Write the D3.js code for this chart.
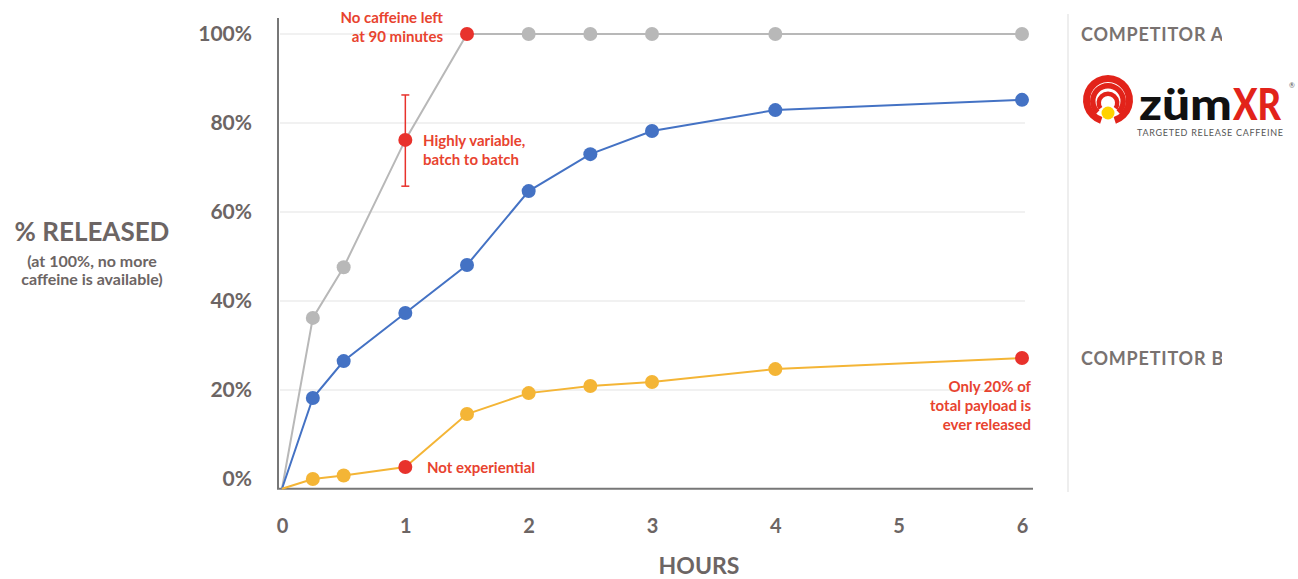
<!DOCTYPE html>
<html>
<head>
<meta charset="utf-8">
<script src="https://cdn.jsdelivr.net/npm/d3@7"></script>
<style>
  body { margin: 0; background: #fff; }
  text { font-family: Lato, "Open Sans", sans-serif; }
</style>
</head>
<body>
<script>
// hours for each sample
var hours = [0, 0.25, 0.5, 1, 1.5, 2, 2.5, 3, 4, 6];
// % released (first point sits on the baseline)
var competitorA = [-2.2, 36.2, 47.6, 76.2, 100, 100, 100, 100, 100, 100];
var zumXR = [-2.2, 18.2, 26.5, 37.3, 48.1, 64.7, 73.0, 78.2, 82.9, 85.2];
var competitorB = [-2.2, 0.0, 0.8, 2.7, 14.6, 19.3, 20.9, 21.8, 24.7, 27.2];
var errorBarA = [65.8, 86.3]; // at 1 hour
var yTicks = [0, 20, 40, 60, 80, 100];
var xTicks = [0, 1, 2, 3, 4, 5, 6];

var width = 1298, height = 579;
var gray = '#6c6564', red = '#e8322c';

var svg = d3.select('body').append('svg').attr('width', width).attr('height', height);

var x = d3.scaleLinear().domain([0, 6]).range([282, 1022]);
var y = d3.scaleLinear().domain([0, 100]).range([479, 34]);

//gridlines
svg.append('g').selectAll('line').data(yTicks.slice(1)).enter().append('line')
  .attr('x1', 280).attr('x2', 1025)
  .attr('y1', function(d) { return y(d); }).attr('y2', function(d) { return y(d); })
  .style('stroke', '#ececec').style('stroke-width', 1.5);

//axes
var yAxis = svg.append('g').attr('transform', 'translate(278,0)')
  .call(d3.axisLeft(y).tickValues(yTicks).tickSize(0).tickPadding(26).tickFormat(function(d) { return d + '%'; }));
yAxis.select('.domain').remove();
yAxis.selectAll('text').style('font-size', '21px').style('font-weight', 700).style('fill', gray);

var xAxis = svg.append('g').attr('transform', 'translate(0,' + y(-2.2) + ')')
  .call(d3.axisBottom(x).tickValues(xTicks).tickSize(0).tickPadding(30).tickFormat(d3.format('d')));
xAxis.select('.domain').remove();
xAxis.selectAll('text').style('font-size', '20px').style('font-weight', 700).style('fill', gray);

svg.append('line').attr('x1', 278).attr('x2', 278).attr('y1', 18).attr('y2', y(-2.2))
  .style('stroke', '#777').style('stroke-width', 2);
svg.append('line').attr('x1', 277).attr('x2', 1033).attr('y1', y(-2.2)).attr('y2', y(-2.2))
  .style('stroke', '#777').style('stroke-width', 2);
svg.append('line').attr('x1', 1068).attr('x2', 1068).attr('y1', 14).attr('y2', 492)
  .style('stroke', '#eeeeee').style('stroke-width', 2);

//axis titles
svg.append('text').attr('x', 92).attr('y', 241).attr('text-anchor', 'middle')
  .style('font-size', '26px').style('font-weight', 700).style('fill', gray).text('% RELEASED');
svg.append('text').attr('x', 92).attr('y', 267).attr('text-anchor', 'middle')
  .style('font-size', '16px').style('font-weight', 700).style('fill', gray).text('(at 100%, no more');
svg.append('text').attr('x', 92).attr('y', 285).attr('text-anchor', 'middle')
  .style('font-size', '16px').style('font-weight', 700).style('fill', gray).text('caffeine is available)');
svg.append('text').attr('x', 699).attr('y', 574).attr('text-anchor', 'middle')
  .style('font-size', '23px').style('font-weight', 700).style('fill', gray).text('HOURS');

//series
var series = [
  {name: 'A', values: competitorA, color: '#b8b8b8'},
  {name: 'zum', values: zumXR, color: '#4472c4'},
  {name: 'B', values: competitorB, color: '#f4b536'}
];
var line = d3.line().x(function(d) { return x(d[0]); }).y(function(d) { return y(d[1]); });

// red error bar under the gray line
var eb = svg.append('g').style('stroke', red).style('stroke-width', 1.5);
eb.append('line').attr('x1', x(1)).attr('x2', x(1)).attr('y1', y(errorBarA[0])).attr('y2', y(errorBarA[1]));
eb.append('line').attr('x1', x(1) - 4).attr('x2', x(1) + 4).attr('y1', y(errorBarA[0])).attr('y2', y(errorBarA[0]));
eb.append('line').attr('x1', x(1) - 4).attr('x2', x(1) + 4).attr('y1', y(errorBarA[1])).attr('y2', y(errorBarA[1]));

// highlighted points: [series, hour]
var highlights = {'A': [1, 1.5], 'B': [1, 6]};

series.forEach(function(s) {
  var pts = hours.map(function(h, i) { return [h, s.values[i]]; });
  svg.append('path').attr('d', line(pts))
    .style('fill', 'none').style('stroke', s.color).style('stroke-width', 2);
  svg.append('g').selectAll('circle').data(pts.slice(1)).enter().append('circle')
    .attr('cx', function(d) { return x(d[0]); })
    .attr('cy', function(d) { return y(d[1]); })
    .attr('r', 7)
    .style('fill', function(d) {
      return (highlights[s.name] || []).indexOf(d[0]) >= 0 ? red : s.color;
    });
});

//annotations
function note(lines, ax, ay, anchor) {
  var t = svg.append('text').attr('text-anchor', anchor)
    .style('font-size', '15px').style('font-weight', 700).style('fill', '#e8432f');
  lines.forEach(function(l, i) {
    t.append('tspan').attr('x', ax).attr('y', ay + i * 19).text(l);
  });
}
note(['No caffeine left', 'at 90 minutes'], 443, 23, 'end');
note(['Highly variable,', 'batch to batch'], 423, 146, 'start');
note(['Not experiential'], 427, 473, 'start');
note(['Only 20% of', 'total payload is', 'ever released'], 1031, 392, 'end');

//competitor labels, cut at the right edge like the source image
svg.append('clipPath').attr('id', 'cut').append('rect').attr('x', 1070).attr('y', 0).attr('width', 152).attr('height', height);
var labels = svg.append('g').attr('clip-path', 'url(#cut)');
labels.append('text').attr('x', 1081).attr('y', y(100) + 7)
  .style('font-size', '18px').style('font-weight', 700).style('letter-spacing', '0.8px').style('fill', '#797270').text('COMPETITOR A');
labels.append('text').attr('x', 1081).attr('y', y(27.2) + 7)
  .style('font-size', '18px').style('font-weight', 700).style('letter-spacing', '0.8px').style('fill', '#797270').text('COMPETITOR B');

//logo
var logo = svg.append('g').attr('transform', 'translate(1107,100)');
var arc = d3.arc();
// [radius, thickness, centre shift down, half-gap at bottom]
[[25, 7, 0, 0.32], [18, 5.5, 1, 0.75], [11.5, 4.5, 3, 0.95]].forEach(function(r) {
  logo.append('path')
    .attr('d', arc({innerRadius: r[0] - r[1], outerRadius: r[0], startAngle: Math.PI + r[3], endAngle: 3 * Math.PI - r[3]}))
    .attr('transform', 'translate(1,' + r[2] + ')')
    .style('fill', '#e2231a');
});
logo.append('circle').attr('cx', 1).attr('cy', 13).attr('r', 6.5).style('fill', '#ffd200');
svg.append('text').attr('x', 1139).attr('y', 120).attr('textLength', 93).attr('lengthAdjust', 'spacingAndGlyphs')
  .style('font-size', '44px').style('font-weight', 900).style('fill', '#111').text('züm');
svg.append('text').attr('x', 1233).attr('y', 120).attr('textLength', 48).attr('lengthAdjust', 'spacingAndGlyphs')
  .style('font-size', '44px').style('font-weight', 900).style('fill', '#e2231a').text('XR');
svg.append('text').attr('x', 1289).attr('y', 88).style('font-size', '7px').style('fill', '#555').text('®');
svg.append('text').attr('x', 1137).attr('y', 136).attr('textLength', 146)
  .style('font-size', '9px').style('fill', '#555').text('TARGETED RELEASE CAFFEINE');
</script>
</body>
</html>
